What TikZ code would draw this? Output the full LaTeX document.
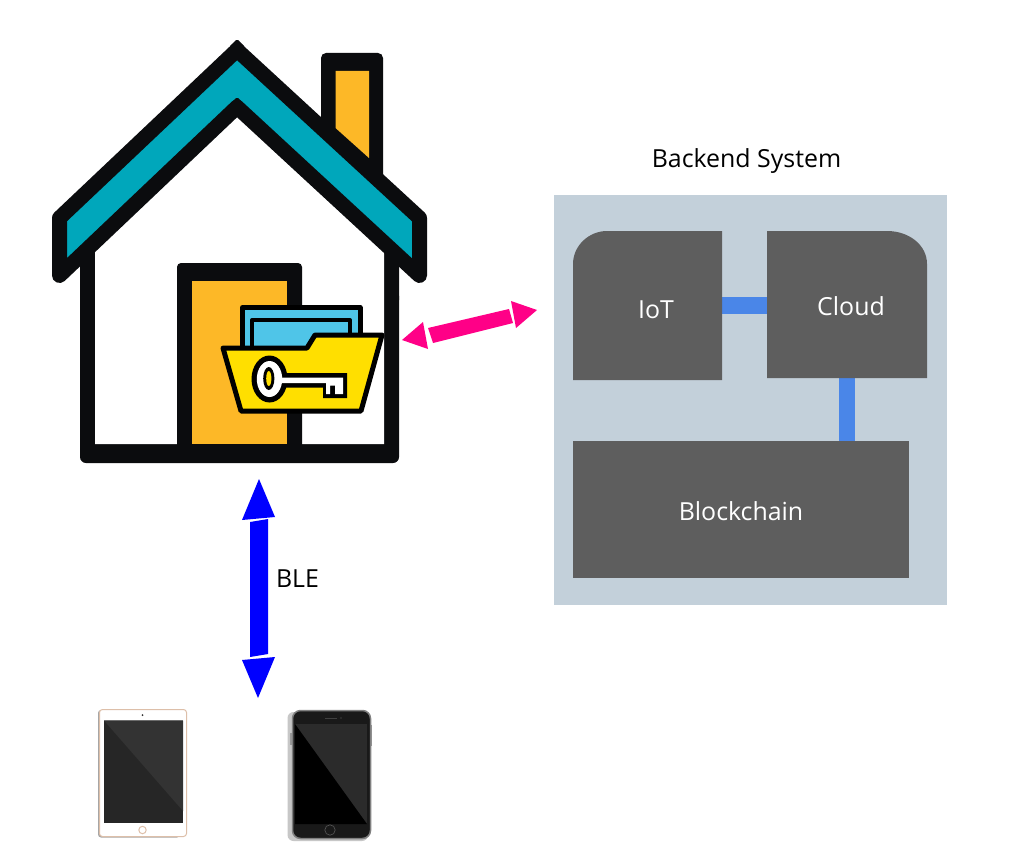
\documentclass[tikz,border=0pt]{standalone}
\usepackage{fontspec}
\setmainfont{Open Sans}
\definecolor{ink}{HTML}{0B0C0E}
\definecolor{teal}{HTML}{00A7BB}
\definecolor{amber}{HTML}{FDB827}
\definecolor{sheet}{HTML}{4FC5E8}
\definecolor{folder}{HTML}{FFDF00}
\definecolor{hot}{HTML}{FF0087}
\definecolor{panel}{HTML}{C3D0DA}
\definecolor{boxgrey}{HTML}{5E5E5E}
\definecolor{link}{HTML}{4A86E8}
\definecolor{tan}{HTML}{DDBFA9}
\tikzset{
  lbl/.style={inner sep=0pt,font=\fontsize{24.9}{29}\selectfont},
  whitelbl/.style={lbl,text=white},
  anchorbox/.style={inner sep=0pt,outer sep=0pt},
  linkline/.style={link,line width=16.5pt},
  inkline/.style={draw=ink,line join=round},
  blackline/.style={draw=black,line join=round,line width=5pt},
}
\begin{document}
\begin{tikzpicture}[x=1pt,y=-1pt]
\useasboundingbox (0,0) rectangle (1024,856);
\fill[white] (0,0) rectangle (1024,856);
% chimney
\fill[ink,rounded corners=5pt] (321,53) -- (383,53) -- (383,185) -- (321,125) -- cycle;
\fill[amber] (335.5,71) -- (369,71) -- (369,158) -- (335.5,128) -- cycle;
% walls
\fill[ink] (80,300) -- (80,262) -- (95,248) -- (95,300) -- cycle;
\fill[ink] (384,300) -- (384,248) -- (399,262) -- (399,300) -- cycle;
\fill[ink,rounded corners=6pt] (80,290) rectangle (399,463);
\fill[white] (95,251.5) -- (237,117) -- (384,252) -- (384,444) -- (95,444) -- cycle;
% door
\fill[ink,rounded corners=4pt] (177,263) rectangle (302,450);
\fill[amber] (192,281) rectangle (287,444);
\fill[ink] (177,444) rectangle (302,455);
% roof
\draw[inkline,fill=teal,line width=15pt] (237,50) -- (59.5,218) -- (59.5,275.5) -- (237,107) -- (419.5,275.5) -- (419.5,218) -- cycle;
\fill[ink,rounded corners=1.5pt] (237,39) -- (229,47) -- (245,47) -- cycle;
\fill[ink,rounded corners=1.5pt] (237,97) -- (229,105) -- (245,105) -- cycle;
% folder back sheets
\draw[blackline,fill=sheet] (242.5,350) -- (242.5,307.5) -- (360,307.5) -- (360,350) -- cycle;
\draw[blackline,fill=sheet,line width=4pt] (252,350) -- (252,320) -- (350,320) -- (350,350) -- cycle;
% folder front
\draw[blackline,fill=folder] (223,348) -- (307,348) -- (315,335) -- (382,335) -- (361,411) -- (241,411) -- cycle;
% key
\fill[black] (283,373) -- (347,373) -- (347,398) -- (323,398) -- (323,387.5) -- (283,387.5) -- cycle;
\fill[black] (269.5,379) ellipse [x radius=18,y radius=23.5];
\fill[white] (269.5,379) ellipse [x radius=12.7,y radius=18];
\fill[white] (275,377.5) -- (343,377.5) -- (343,394) -- (335,394) -- (335,385.5) -- (330,385.5) -- (330,394) -- (326,394) -- (326,383) -- (275,383) -- cycle;
\fill[black] (268.8,378.5) ellipse [x radius=5.6,y radius=11.5];
\fill[folder] (268.8,378.5) ellipse [x radius=2.6,y radius=7.5];
% pink arrow
\fill[hot] (402,340) -- (423,322) -- (428,349) -- cycle;
\fill[hot] (428,328) -- (509,309) -- (513,323) -- (433,343) -- cycle;
\fill[hot] (537,310) -- (511,301) -- (516,328) -- cycle;
% blue arrow
\fill[blue] (259,479) -- (275,517) -- (242,520) -- cycle;
\fill[blue] (250,522) -- (268,519) -- (268,654) -- (250,657) -- cycle;
\fill[blue] (242,660) -- (275,657) -- (258,698) -- cycle;
\node[lbl] (ble) at (297.5,579) {BLE};
% backend
\node[lbl] (title) at (746.5,161) {Backend System};
\fill[panel] (554,195) rectangle (947,605);
\node[anchorbox,minimum width=149pt,minimum height=149pt] (iot) at (647.5,305.5) {};
\node[anchorbox,minimum width=160pt,minimum height=147pt] (cloud) at (847,304.5) {};
\node[anchorbox,minimum width=336pt,minimum height=137pt] (block) at (741,509.5) {};
\draw[linkline] (iot.east) -- (iot.east -| cloud.west);
\draw[linkline] (cloud.south) -- (cloud.south |- block.north);
\fill[boxgrey] (iot.south west) -- (573,264) .. controls (573,245.8) and (588.8,231) .. (607,231) -- (iot.north east) -- (iot.south east) -- cycle;
\fill[boxgrey] (cloud.south west) -- (cloud.north west) -- (887,231) .. controls (909,231) and (927,245) .. (927,264) -- (cloud.south east) -- cycle;
\fill[boxgrey] (block.south west) rectangle (block.north east);
\node[whitelbl] (iottext) at (656,310) {IoT};
\node[whitelbl] (cloudtext) at (851,306) {Cloud};
\node[whitelbl] (blocktext) at (741,511) {Blockchain};
% tablet
\fill[black!35,rounded corners=3pt] (98,710) rectangle (180,837.5);
\draw[tan,fill=white,line width=1pt,rounded corners=3pt] (99.5,709.5) rectangle (186.5,836.5);
\fill[black!45] (104,720) rectangle (183,823);
\fill[black!85] (104,720.5) rectangle (183,823);
\fill[black!80] (104,720.5) -- (183,720.5) -- (183,811) -- cycle;
\fill[black!80] (142.5,715) circle (1pt);
\draw[tan,line width=1pt] (142.5,830) circle (3.7pt);
% phone
\fill[black!22,rounded corners=6pt] (287.5,712) rectangle (368,841);
\fill[black!40] (289.5,733) rectangle (291.5,745);
\fill[black!40] (371,725) rectangle (372.3,746);
\draw[black!50,fill=black!90,line width=1.5pt,rounded corners=8pt] (292.5,710.5) rectangle (370.5,838.5);
\fill[black!83] (295,724) rectangle (367,824);
\fill[black] (295,724) -- (295,824) -- (367,824) -- cycle;
\fill[black!75] (325,717.5) rectangle (337,718.2);
\fill[black!60] (341,718) circle (0.6pt);
\draw[black!65,line width=0.6pt] (330,830) circle (5.2pt);
\end{tikzpicture}
\end{document}
